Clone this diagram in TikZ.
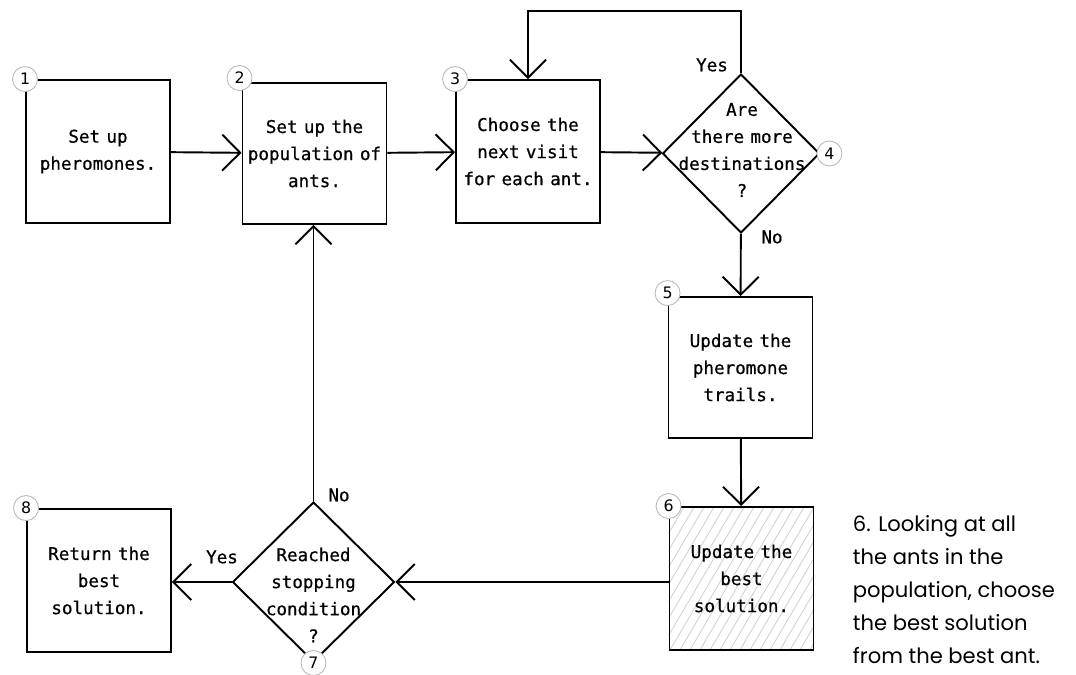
\documentclass[tikz,border=0pt]{standalone}
\usepackage{fontspec}
\setsansfont{DejaVu Sans}
\newfontfamily\stepfamily{DejaVu Sans Mono}[FakeBold=0.6,WordSpace=0.6]
\newfontfamily\handfont{Poppins}
\usetikzlibrary{shapes.geometric,arrows.meta,backgrounds}

\newcommand{\boxfont}{\stepfamily\fontsize{10}{15.4}\selectfont}

\begin{document}
\begin{tikzpicture}[x=0.02cm,y=-0.02cm,line width=1.1pt,
    >={Straight Barb[length=0.36cm,width=0.72cm]},
    box/.style={draw,rectangle,minimum width=2.88cm,minimum height=2.86cm,inner sep=1pt,align=center,font=\boxfont},
    decision/.style={draw,diamond,minimum width=3.14cm,minimum height=3.18cm,inner sep=0pt},
    num/.style={circle,draw=gray!55,fill=white,line width=0.5pt,minimum size=0.5cm,inner sep=0pt,font=\sffamily\fontsize{9}{9}\selectfont},
    answer/.style={font=\boxfont,align=center}]
    \useasboundingbox (0,0) rectangle (1076,675);

    % steps and decisions
    \node[box] (s1) at (98,151.5) {Set up\\pheromones.};
    \node[box,minimum height=2.82cm] (s2) at (314.5,153.5) {Set up the\\population of\\ants.};
    \node[box] (s3) at (528,151.5) {Choose the\\next visit\\for each ant.};
    \node[decision] (d4) at (741,153.5) {};
    \node[answer] (d4text) at (742,150) {Are\\there more\\destinations\\?};
    \node[box,minimum height=2.82cm] (s5) at (740.5,367.5) {Update the\\pheromone\\trails.};
    \node[box] (s6) at (741.5,578.5) {Update the\\best\\solution.};
    \node[decision,minimum width=3.24cm,minimum height=3.2cm] (d7) at (313.5,582) {};
    \node[answer] (d7text) at (313.5,595) {Reached\\stopping\\condition\\?};
    \node[box] (s8) at (99,580.5) {Return the\\best\\solution.};

    % hatching behind step 6
    \begin{scope}[on background layer]
        \clip (s6.south west) rectangle (s6.north east);
        \foreach \i in {-110,-100,...,160}
            \draw[gray!35,line width=0.5pt] (670+\i,650) -- ++(100,-170);
    \end{scope}

    % step numbers
    \node[num] (n1) at (s1.north west) {1};
    \node[num] (n2) at ([xshift=-0.04cm,yshift=0.08cm]s2.north west) {2};
    \node[num] (n3) at (s3.north west) {3};
    \node[num] (n4) at ([xshift=0.18cm]d4.east) {4};
    \node[num] (n5) at ([yshift=0.06cm]s5.north west) {5};
    \node[num] (n6) at (s6.north west) {6};
    \node[num] (n7) at (d7.south) {7};
    \node[num] (n8) at (s8.north west) {8};

    % connectors
    \coordinate (loop) at (528,11);
    \draw[->] (s1) -- (s2);
    \draw[->] (s2) -- (s3);
    \draw[->] (s3) -- (d4);
    \draw[->] (d4.north) |- (loop) -- (s3.north);
    \draw[->] (d4) -- (s5);
    \draw[->] (s5) -- (s6);
    \draw[->] (s6.west |- d7.east) -- (d7.east);
    \draw[->] (d7.north) -- (d7.north |- s2.south);
    \draw[->] (d7.west) -- (s8.east |- d7.west);

    % answers
    \node[answer] (yes4) at (712,65) {Yes};
    \node[answer] (no4) at (772,237) {No};
    \node[answer] (no7) at (339,495) {No};
    \node[answer] (yes7) at (222,557) {Yes};

    % side note
    \node[anchor=north west,align=left,inner sep=0pt,font=\handfont\fontsize{12}{18.8}\selectfont] (note) at (852,514)
        {6. Looking at all\\the ants in the\\population, choose\\the best solution\\from the best ant.};
\end{tikzpicture}
\end{document}
